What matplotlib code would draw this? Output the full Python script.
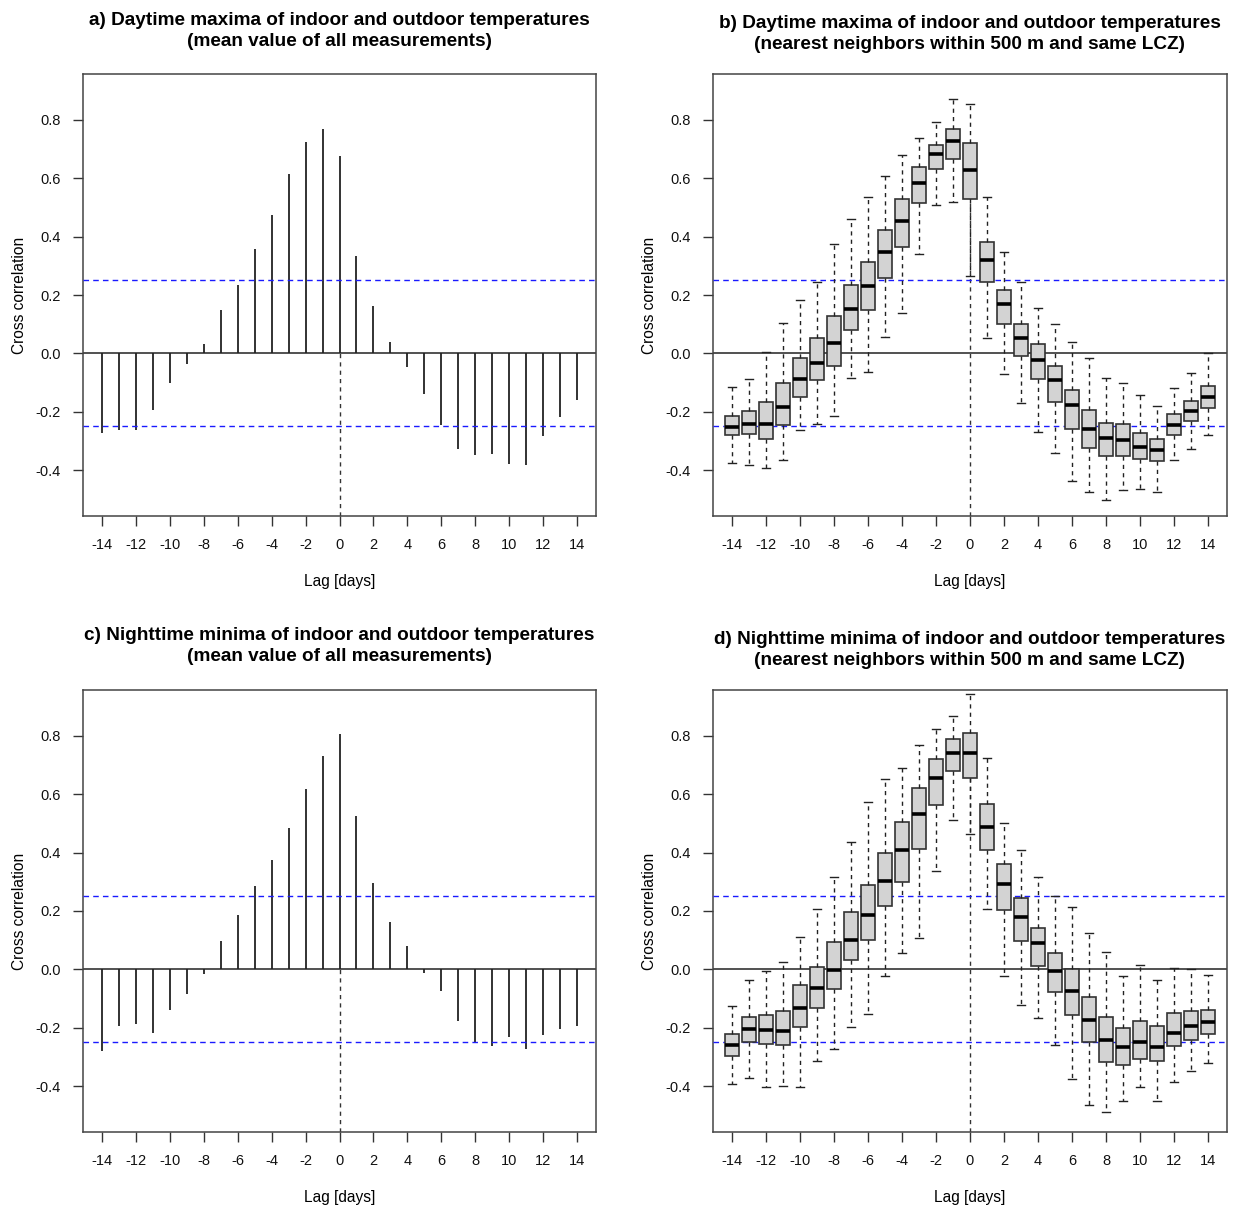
import matplotlib
matplotlib.use("Agg")
import matplotlib.pyplot as plt
import numpy as np

plt.rcParams['font.family'] = ['Liberation Sans', 'DejaVu Sans']
plt.rcParams['axes.unicode_minus'] = False

#---datos---#
lags = np.arange(-14, 15)

# a) CCF daytime maxima, mean of all measurements
ccf_day = [-0.271, -0.261, -0.261, -0.194, -0.101, -0.038, 0.032, 0.150, 0.234, 0.357,
           0.473, 0.614, 0.723, 0.769, 0.675, 0.334, 0.163, 0.040, -0.046, -0.139,
           -0.247, -0.328, -0.349, -0.346, -0.379, -0.383, -0.282, -0.217, -0.158]

# c) CCF nighttime minima, mean of all measurements
ccf_night = [-0.280, -0.194, -0.187, -0.217, -0.140, -0.083, -0.017, 0.097, 0.188, 0.285,
             0.376, 0.485, 0.619, 0.730, 0.805, 0.527, 0.297, 0.163, 0.079, -0.011,
             -0.074, -0.177, -0.251, -0.262, -0.232, -0.274, -0.226, -0.203, -0.195]

# b) boxplots daytime maxima, nearest neighbours
day_whishi = [-0.114, -0.089, 0.006, 0.104, 0.184, 0.246, 0.373, 0.459, 0.534, 0.608,
              0.679, 0.739, 0.791, 0.872, 0.854, 0.534, 0.346, 0.246, 0.155, 0.099,
              0.039, -0.017, -0.086, -0.103, -0.144, -0.181, -0.120, -0.066, 0.000]
day_q3 = [-0.214, -0.197, -0.166, -0.103, -0.017, 0.054, 0.127, 0.233, 0.312, 0.423,
          0.528, 0.637, 0.713, 0.770, 0.720, 0.381, 0.218, 0.102, 0.033, -0.042,
          -0.126, -0.194, -0.237, -0.242, -0.273, -0.294, -0.208, -0.162, -0.110]
day_med = [-0.253, -0.241, -0.241, -0.182, -0.089, -0.034, 0.037, 0.151, 0.230, 0.347,
           0.455, 0.583, 0.682, 0.728, 0.629, 0.321, 0.168, 0.051, -0.022, -0.091,
           -0.178, -0.258, -0.290, -0.296, -0.319, -0.330, -0.245, -0.197, -0.149]
day_q1 = [-0.280, -0.275, -0.294, -0.245, -0.151, -0.091, -0.042, 0.079, 0.149, 0.258,
          0.363, 0.514, 0.631, 0.665, 0.529, 0.246, 0.102, -0.009, -0.089, -0.166,
          -0.259, -0.325, -0.353, -0.351, -0.361, -0.370, -0.279, -0.231, -0.186]
day_whislo = [-0.375, -0.381, -0.392, -0.366, -0.264, -0.241, -0.216, -0.085, -0.063, 0.057,
              0.137, 0.342, 0.509, 0.518, 0.265, 0.053, -0.071, -0.170, -0.270, -0.341,
              -0.438, -0.475, -0.503, -0.469, -0.466, -0.475, -0.366, -0.327, -0.279]

# d) boxplots nighttime minima, nearest neighbours
night_whishi = [-0.126, -0.036, -0.007, 0.024, 0.112, 0.206, 0.317, 0.438, 0.572, 0.651,
                0.689, 0.768, 0.823, 0.869, 0.943, 0.723, 0.501, 0.409, 0.317, 0.250,
                0.213, 0.124, 0.058, -0.022, 0.016, -0.036, 0.005, 0.002, -0.018]
night_q3 = [-0.223, -0.162, -0.155, -0.141, -0.055, 0.007, 0.095, 0.196, 0.290, 0.398,
            0.505, 0.620, 0.720, 0.789, 0.809, 0.566, 0.361, 0.244, 0.143, 0.057,
            0.003, -0.096, -0.163, -0.201, -0.177, -0.195, -0.149, -0.144, -0.138]
night_med = [-0.259, -0.203, -0.206, -0.210, -0.132, -0.063, -0.001, 0.102, 0.187, 0.304,
             0.409, 0.532, 0.656, 0.740, 0.740, 0.487, 0.293, 0.178, 0.091, -0.006,
             -0.074, -0.174, -0.243, -0.266, -0.249, -0.266, -0.218, -0.193, -0.181]
night_q1 = [-0.296, -0.248, -0.254, -0.258, -0.198, -0.133, -0.066, 0.031, 0.102, 0.218,
            0.298, 0.411, 0.564, 0.679, 0.654, 0.409, 0.204, 0.096, 0.010, -0.078,
            -0.155, -0.250, -0.316, -0.326, -0.308, -0.315, -0.264, -0.241, -0.220]
night_whislo = [-0.392, -0.371, -0.403, -0.401, -0.403, -0.315, -0.274, -0.198, -0.154, -0.023,
                0.056, 0.108, 0.336, 0.512, 0.464, 0.207, -0.023, -0.123, -0.166, -0.260,
                -0.376, -0.466, -0.489, -0.452, -0.403, -0.452, -0.386, -0.348, -0.320]

limite = 0.25  # banda de significancia

titulos = ["a) Daytime maxima of indoor and outdoor temperatures\n(mean value of all measurements)",
           "b) Daytime maxima of indoor and outdoor temperatures\n(nearest neighbors within 500 m and same LCZ)",
           "c) Nighttime minima of indoor and outdoor temperatures\n(mean value of all measurements)",
           "d) Nighttime minima of indoor and outdoor temperatures\n(nearest neighbors within 500 m and same LCZ)"]

W, H = 1240, 1207
fig = plt.figure(figsize=(W / 100, H / 100), dpi=100)

def caja(px, py, pw, ph):
    return fig.add_axes([px / W, 1 - (py + ph) / H, pw / W, ph / H])

ax_a = caja(83, 74, 513, 442)
ax_b = caja(713, 74, 514, 442)
ax_c = caja(83, 690, 513, 442)
ax_d = caja(713, 690, 514, 442)

ylo, yhi = -0.557, 0.957

def base(ax, titulo, tpad):
    ax.set_xlim(-15.12, 15.12)
    ax.set_ylim(ylo, yhi)
    ax.set_xticks(np.arange(-14, 15, 2))
    ax.set_yticks([-0.4, -0.2, 0.0, 0.2, 0.4, 0.6, 0.8])
    ax.set_yticklabels(["-0.4", "-0.2", "0.0", "0.2", "0.4", "0.6", "0.8"])
    ax.tick_params(direction='out', length=7, width=1, color='#333333',
                   labelsize=10.5, labelcolor='#111111')
    ax.tick_params(axis='x', pad=9)
    ax.tick_params(axis='y', pad=9)
    for s in ax.spines.values():
        s.set_color('#444444')
        s.set_linewidth(1.1)
    ax.set_xlabel("Lag [days]", fontsize=11.2, labelpad=16)
    ax.set_ylabel("Cross correlation", fontsize=11.2, labelpad=6)
    ax.set_title(titulo, fontsize=13.7, fontweight='bold', pad=tpad, linespacing=1.3)
    ax.axhline(limite, color='#1a1aff', ls=(0, (4, 3)), lw=1.0, zorder=3)
    ax.axhline(-limite, color='#1a1aff', ls=(0, (4, 3)), lw=1.0, zorder=3)
    ax.axhline(0, color='#222222', lw=1.1, zorder=1)

def barras(ax, vals):
    ax.vlines(lags, 0, vals, color='#222222', lw=1.3, zorder=2)
    ax.plot([0, 0], [ylo, 0], color='#333333', ls=(0, (3, 3)), lw=1.0, zorder=2)

def cajas(ax, lo, q1, med, q3, hi):
    stats = []
    for i in range(len(lags)):
        stats.append(dict(whislo=lo[i], q1=q1[i], med=med[i], q3=q3[i], whishi=hi[i], fliers=[]))
    ax.plot([0, 0], [ylo, med[14]], color='#333333', ls=(0, (3, 3)), lw=1.0, zorder=2)
    ax.bxp(stats, positions=lags, widths=0.78, capwidths=0.42, patch_artist=True,
           showfliers=False, manage_ticks=False,
           boxprops=dict(facecolor='#d3d3d3', edgecolor='#333333', lw=1.2),
           medianprops=dict(color='black', lw=2.6),
           whiskerprops=dict(color='#222222', ls=(0, (3, 3)), lw=1.0),
           capprops=dict(color='#222222', lw=1.0), zorder=4)

base(ax_a, titulos[0], 20)
barras(ax_a, ccf_day)
base(ax_b, titulos[1], 18)
cajas(ax_b, day_whislo, day_q1, day_med, day_q3, day_whishi)
base(ax_c, titulos[2], 21)
barras(ax_c, ccf_night)
base(ax_d, titulos[3], 18)
cajas(ax_d, night_whislo, night_q1, night_med, night_q3, night_whishi)

plt.savefig('out.png', dpi=100)
